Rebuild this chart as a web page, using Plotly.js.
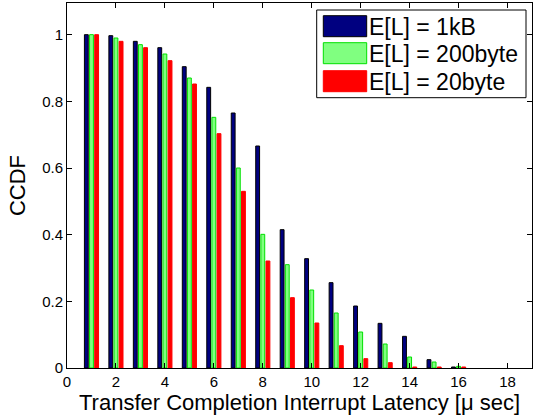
<!DOCTYPE html>
<html>
<head>
<meta charset="utf-8">
<script src="https://cdn.plot.ly/plotly-3.0.1.min.js"></script>
<style>html,body{margin:0;padding:0;background:#fff}#chart{width:543px;height:417px}</style>
</head>
<body>
<div id="chart"></div>
<script>
// Data
const latency = [1,2,3,4,5,6,7,8,9,10,11,12,13,14,15,16];
const seriesNames = ["E[L] = 1kB", "E[L] = 200byte", "E[L] = 20byte"];
const ccdf1kB = [1.0,0.997,0.980,0.961,0.904,0.842,0.765,0.666,0.415,0.328,0.256,0.186,0.134,0.095,0.025,0.003];
const ccdf200 = [1.0,0.990,0.970,0.942,0.870,0.752,0.600,0.401,0.310,0.234,0.165,0.108,0.072,0.033,0.018,0.005];
const ccdf20  = [1.0,0.980,0.961,0.922,0.852,0.703,0.530,0.321,0.211,0.135,0.067,0.028,0.016,0.003,0.003,0.003];
const xTicks = [0,2,4,6,8,10,12,14,16,18];
const yTicks = [0,0.2,0.4,0.6,0.8,1];
const yTickText = ["0","0.2","0.4","0.6","0.8","1"];

const fills = ["#000080", "#80ff80", "#ff0000"];
const edges = ["#000000", "#00e000", "#ff0000"];
const values = [ccdf1kB, ccdf200, ccdf20];

const traces = values.map((v, i) => ({
  type: "bar", x: latency, y: v, name: seriesNames[i],
  marker: {color: fills[i], line: {color: edges[i], width: 1}},
  showlegend: false, hoverinfo: "skip"
}));

// plot area geometry (pixels) for the hand-drawn legend
const L = 67, T = 3, W = 465, H = 365;
const px = x => (x - L) / W;
const py = y => (T + H - y) / H;

const shapes = [{
  type: "rect", xref: "paper", yref: "paper",
  x0: px(316.7), x1: px(526), y0: py(97.7), y1: py(10),
  line: {color: "#000", width: 1}, fillcolor: "#fff"
}];
const annotations = [];
const rowTop = [15.7, 42.7, 70.7];
seriesNames.forEach((n, i) => {
  shapes.push({
    type: "rect", xref: "paper", yref: "paper",
    x0: px(323.3), x1: px(366.7), y0: py(rowTop[i] + 21), y1: py(rowTop[i]),
    line: {color: edges[i], width: 1}, fillcolor: fills[i]
  });
  annotations.push({
    xref: "paper", yref: "paper", x: px(367), y: py(rowTop[i] + 11),
    xanchor: "left", yanchor: "middle", text: n, showarrow: false,
    font: {family: "Liberation Sans, Arial, sans-serif", size: 23, color: "#000"}
  });
});

const layout = {
  width: 543, height: 417,
  margin: {l: L, r: 11, t: T, b: 49},
  paper_bgcolor: "#fff", plot_bgcolor: "#fff",
  font: {family: "Liberation Sans, Arial, sans-serif", color: "#000", size: 15},
  barmode: "group", bargap: 0.37, bargroupgap: 0.25,
  xaxis: {
    range: [0, 19], tickvals: xTicks, ticks: "inside", ticklen: 5, tickcolor: "#000",
    showline: true, linecolor: "#000", linewidth: 1, mirror: "allticks",
    showgrid: false, zeroline: false, tickfont: {size: 15},
    title: {text: "Transfer Completion Interrupt Latency [μ sec]", font: {size: 22}, standoff: 0}
  },
  yaxis: {
    range: [0, 1.095], tickvals: yTicks, ticktext: yTickText, ticks: "inside", ticklen: 5, tickcolor: "#000",
    showline: true, linecolor: "#000", linewidth: 1, mirror: "allticks",
    showgrid: false, zeroline: false, tickfont: {size: 15},
    title: {text: "CCDF", font: {size: 22}, standoff: 10}
  },
  shapes: shapes, annotations: annotations
};

Plotly.newPlot("chart", traces, layout, {displayModeBar: false, staticPlot: true});
</script>
</body>
</html>
